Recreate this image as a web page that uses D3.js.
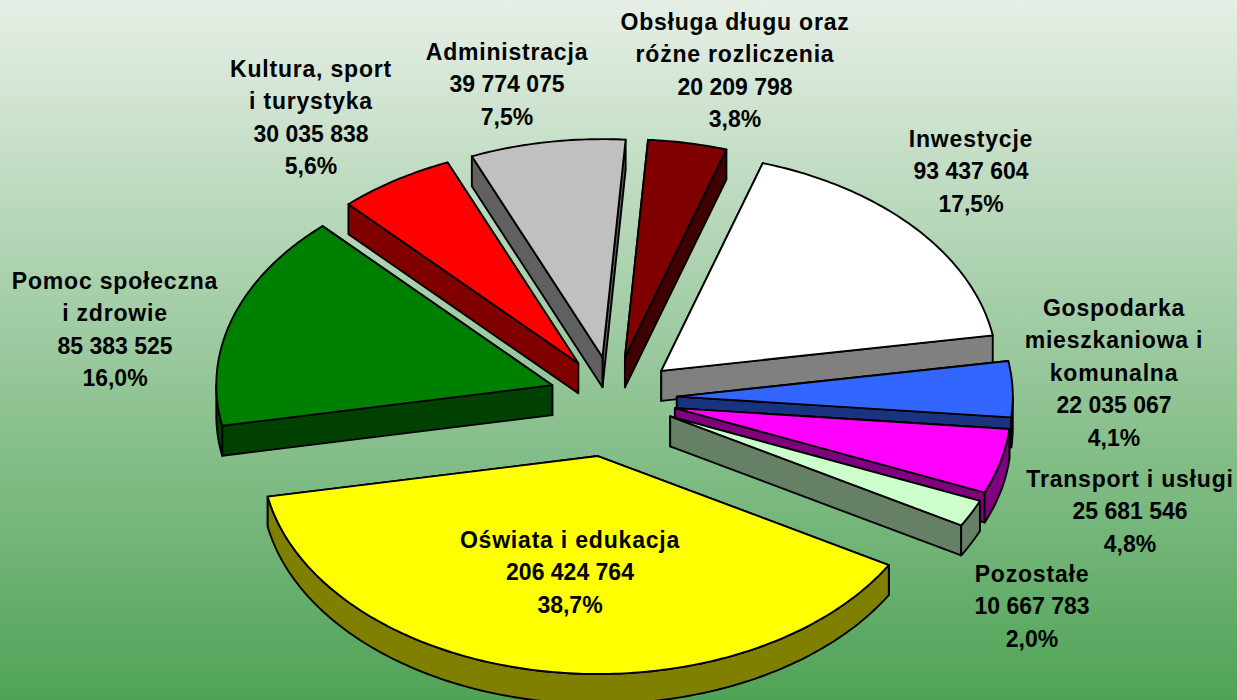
<!DOCTYPE html>
<html lang="pl">
<head>
<meta charset="utf-8">
<script src="https://cdn.jsdelivr.net/npm/d3@7/dist/d3.min.js"></script>
<style>
html,body{margin:0;padding:0;overflow:hidden;background:#fff}
svg{display:block}
text{font-family:"Liberation Sans",Arial,sans-serif;font-weight:700;font-size:23px;fill:#000;text-anchor:middle}
</style>
</head>
<body>
<svg id="chart" width="1237" height="700"></svg>
<script>
const categories = ["Oświata i edukacja","Pomoc społeczna|i zdrowie","Kultura, sport|i turystyka","Administracja","Obsługa długu oraz|różne rozliczenia","Inwestycje","Gospodarka|mieszkaniowa i|komunalna","Transport i usługi","Pozostałe"];
const values = [206424764,85383525,30035838,39774075,20209798,93437604,22035067,25681546,10667783];
const colors = ["#FFFF00","#008000","#FF0000","#C0C0C0","#800000","#FFFFFF","#3366FF","#FF00FF","#CCFFCC"];
const explosion = [0.27,0.19,0.19,0.19,0.19,0.19,0.19,0.19,0.19];
const drawOrder = [4,3,2,1,5,6,7,8,0];
const labelAnchors = [[570,548],[115,289],[311,77],[507,60],[735,30],[971,147],[1114,316],[1130,487],[1032,582]];

const W = 1237, H = 700, depth = 30, lineGap = 32.4;
const cx = 613, cy = 398, rx = 336, ry = 218;
const sx = d3.scaleLinear().domain([-1,1]).range([cx-rx,cx+rx]);
const sy = d3.scaleLinear().domain([1,-1]).range([cy-ry,cy+ry]);
const loc = d3.formatLocale({decimal:",",thousands:" ",grouping:[3],currency:["",""]});
const fmtValue = loc.format(",d"), fmtPct = loc.format(".1f");
const total = d3.sum(values);

const svg = d3.select("#chart");
const grad = svg.append("defs").append("linearGradient").attr("id","bg").attr("x1",0).attr("y1",0).attr("x2",0).attr("y2",1);
grad.append("stop").attr("offset",0).attr("stop-color","#e6efe6");
grad.append("stop").attr("offset",1).attr("stop-color","#4fa356");
svg.append("rect").attr("width",W).attr("height",H).attr("fill","url(#bg)");

const pie = d3.pie().sort(null).value(d=>d).startAngle(120*Math.PI/180).endAngle(480*Math.PI/180);
const arcs = pie(values);
const line = d3.line().x(p=>p[0]).y(p=>p[1]);
const g = svg.append("g");

function paint(pts, fill){
  g.append("path").attr("d",line(pts)+"Z").attr("fill",fill)
    .attr("stroke","#000").attr("stroke-width",1.9).attr("stroke-linejoin","round");
}
function rim(a0,a1,mx,my){
  const n = Math.max(2,Math.ceil((a1-a0)/0.015)), out=[];
  d3.range(n+1).forEach(i=>{
    const t = a0+(a1-a0)*i/n;
    out.push([sx(mx+Math.sin(t)),sy(my+Math.cos(t))]);
  });
  return out;
}
drawOrder.forEach(i=>{
  const a = arcs[i], mid=(a.startAngle+a.endAngle)/2;
  const mx = explosion[i]*Math.sin(mid), my = explosion[i]*Math.cos(mid);
  const apex = [sx(mx),sy(my)];
  const top = rim(a.startAngle,a.endAngle,mx,my);
  const down = p=>[p[0],p[1]+depth];
  const base = d3.rgb(colors[i]);
  const dark = d3.rgb(base.r/2,base.g/2,base.b/2).formatHex();
  // radial walls, farther edge first so the nearer wall covers it
  [top[0],top[top.length-1]].sort((p,q)=>p[1]-q[1])
    .forEach(e=>paint([apex,e,down(e),down(apex)],dark));
  // outer wall: only the part of the rim that faces the viewer
  const tau = 2*Math.PI;
  const shift = a.startAngle>=tau ? tau : 0;
  const s0 = a.startAngle-shift, s1 = a.endAngle-shift;
  const lo = Math.max(s0,Math.PI/2), hi = Math.min(s1,3*Math.PI/2);
  if(hi>lo){
    const r = rim(lo,hi,mx,my);
    paint(r.concat(r.slice().reverse().map(down)),dark);
  }
  paint([apex].concat(top),colors[i]);
});

categories.forEach((c,i)=>{
  const lines = c.split("|");
  const pct = fmtPct(values[i]/total*100)+"%";
  const all = lines.map(t=>({t,name:true})).concat([{t:fmtValue(values[i])},{t:pct}]);
  all.forEach((l,k)=>{
    svg.append("text").attr("x",labelAnchors[i][0]).attr("y",labelAnchors[i][1]+k*lineGap)
      .attr("letter-spacing",l.name?0.8:0).text(l.t);
  });
});
</script>
</body>
</html>
